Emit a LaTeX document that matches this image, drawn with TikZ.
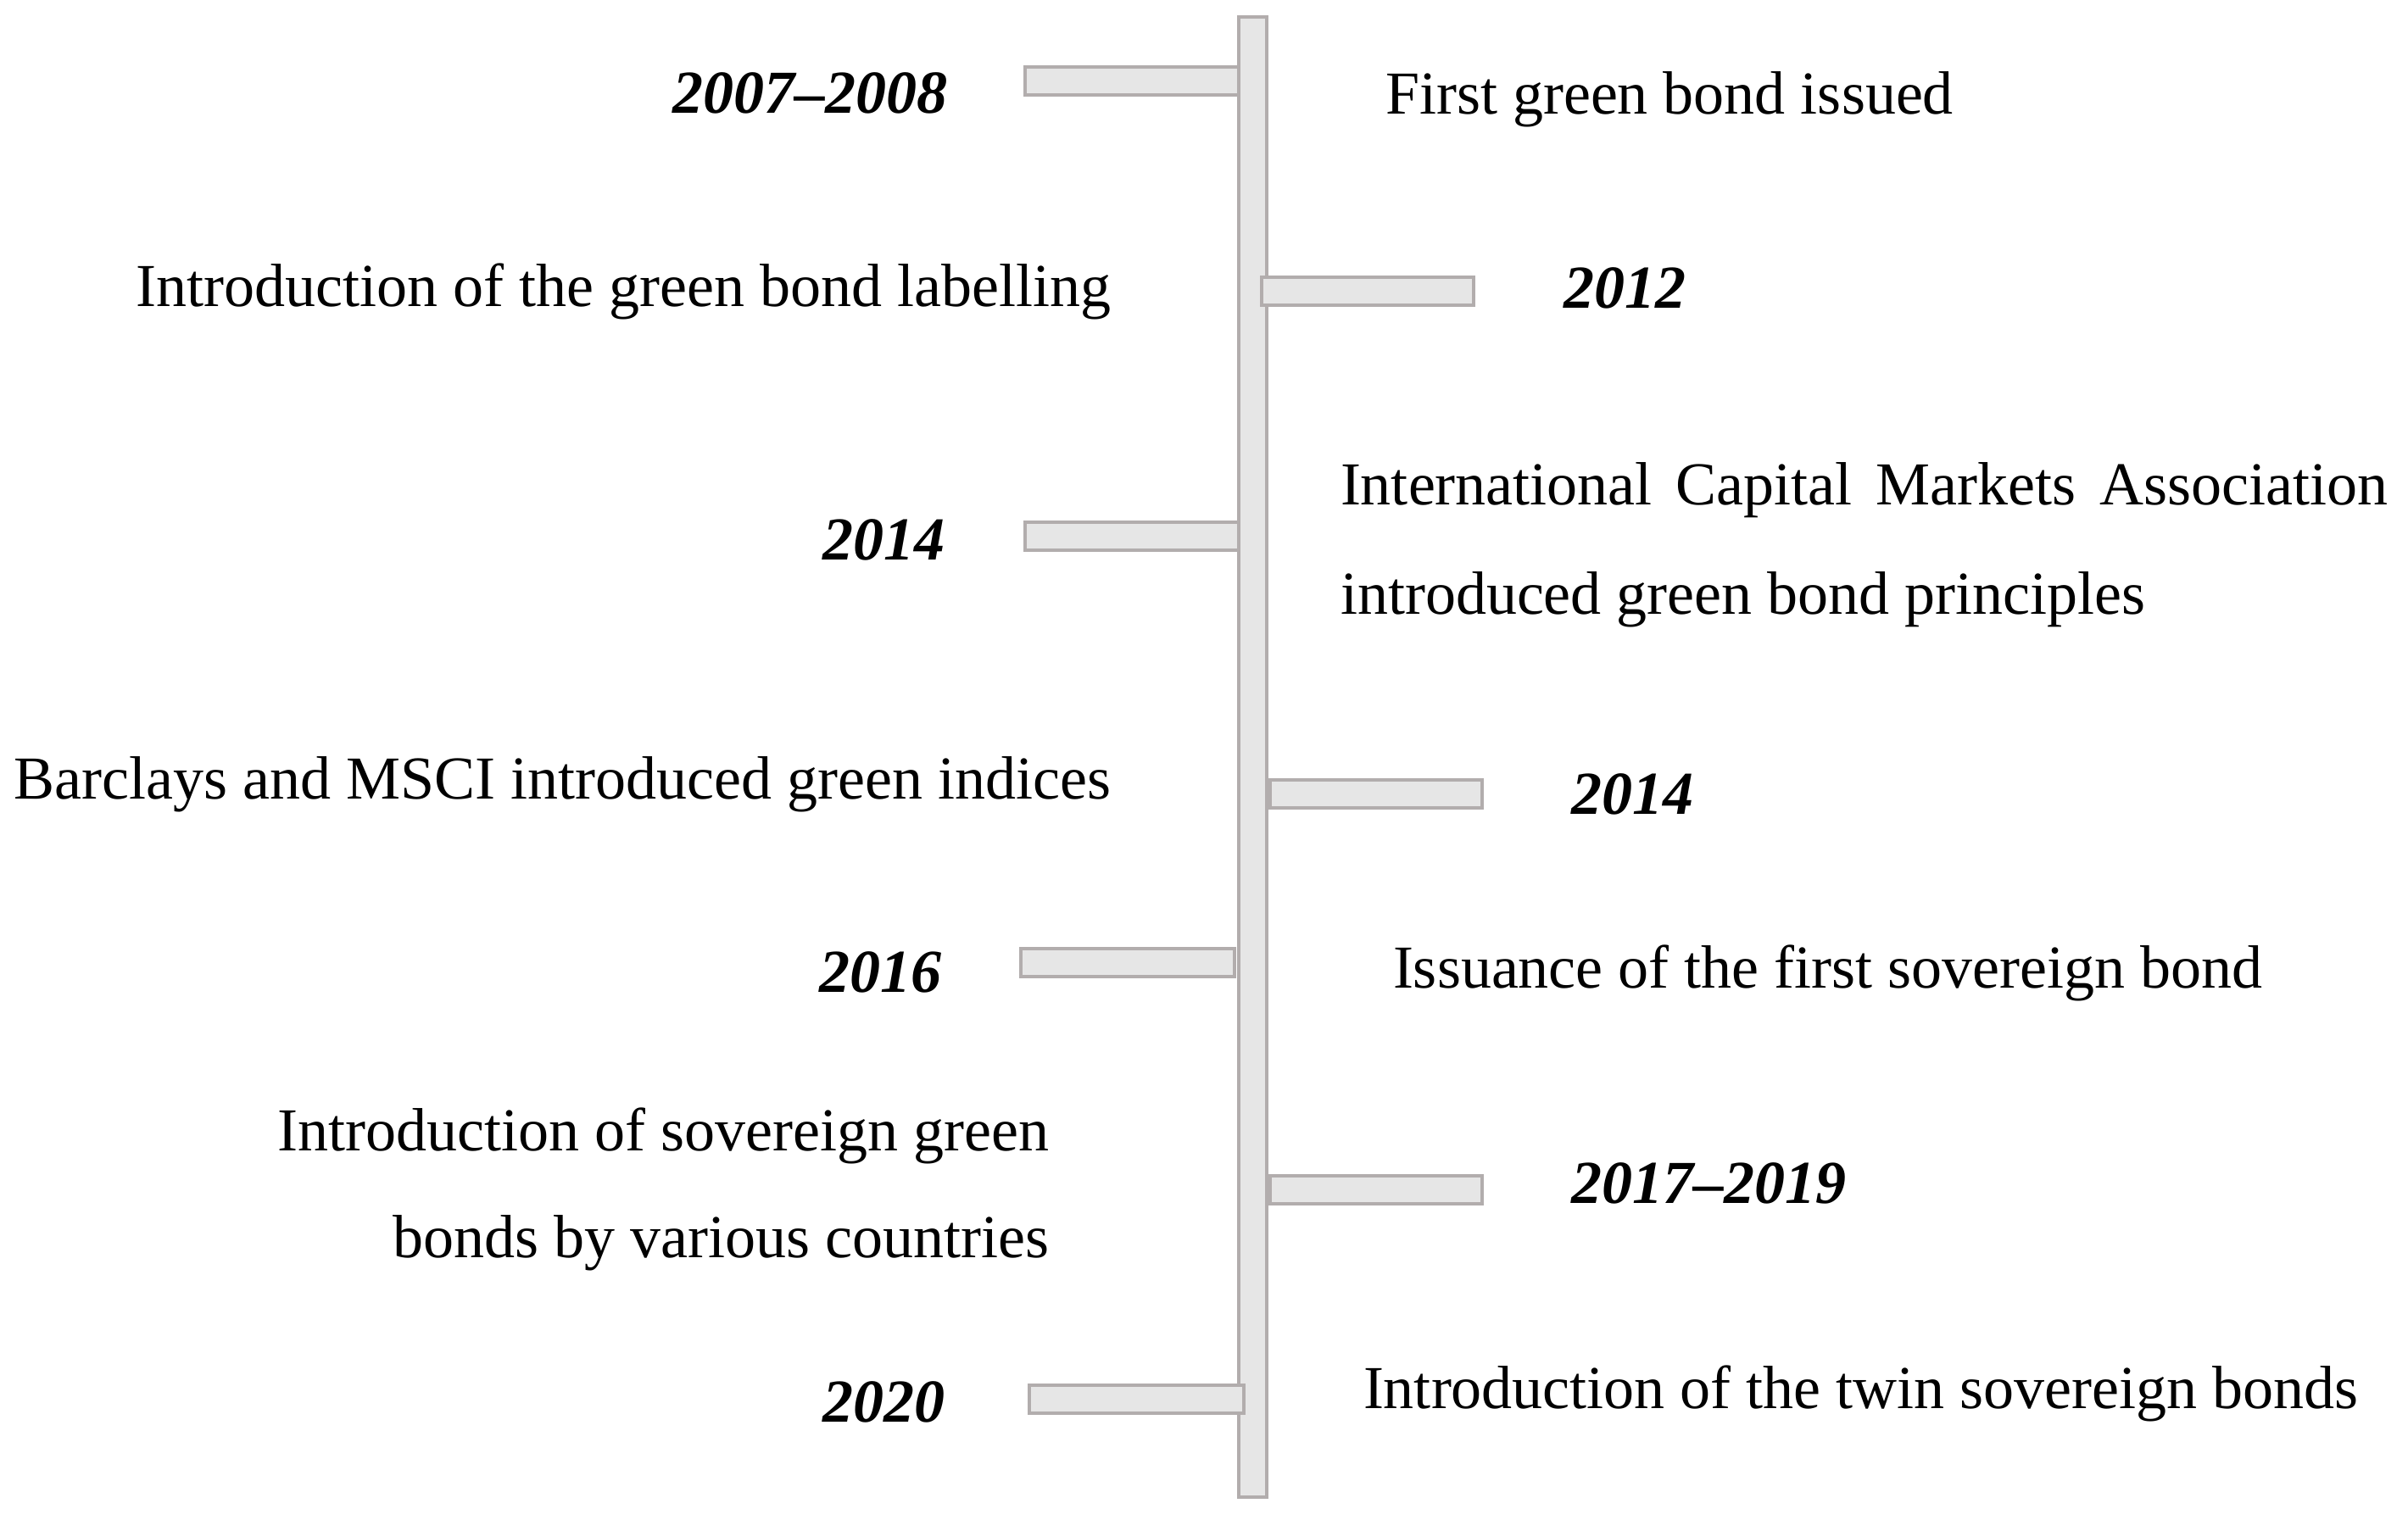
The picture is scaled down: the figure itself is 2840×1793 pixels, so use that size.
\documentclass[tikz,border=0pt]{standalone}
\usepackage{fontspec}
\setmainfont{Liberation Serif}
\definecolor{barfill}{HTML}{E6E6E6}
\definecolor{barline}{HTML}{B2ADAD}
\begin{document}
\begin{tikzpicture}[x=1pt,y=-1pt,
  bar/.style={draw=barline, fill=barfill, line width=4.5pt, inner sep=0pt, outer sep=0pt, anchor=north west},
  txt/.style={font=\fontsize{72}{86}\selectfont, inner sep=0pt, outer sep=0pt},
  yr/.style={font=\fontsize{72}{86}\selectfont\bfseries\itshape, inner sep=0pt, outer sep=0pt}]
\useasboundingbox (0,0) rectangle (2840,1793);
% vertical bar
\node[bar, minimum width=33pt, minimum height=1746pt] (axis) at (1461,20) {};
% stubs
\node[bar, minimum width=252pt, minimum height=33pt] (s1) at (1209,79) {};
\node[bar, minimum width=250pt, minimum height=33pt] (s2) at (1488,327) {};
\node[bar, minimum width=252pt, minimum height=33pt] (s3) at (1209,616) {};
\node[bar, minimum width=250pt, minimum height=33pt] (s4) at (1498,920) {};
\node[bar, minimum width=252pt, minimum height=33pt] (s5) at (1204,1119) {};
\node[bar, minimum width=250pt, minimum height=33pt] (s6) at (1498,1387) {};
\node[bar, minimum width=253pt, minimum height=33pt] (s7) at (1214,1634) {};
% years
\node[yr, anchor=base east] (y1) at (1117,133) {2007–2008};
\node[yr, anchor=base west] (y2) at (1844,363) {2012};
\node[yr, anchor=base east] (y3) at (1114,660) {2014};
\node[yr, anchor=base west] (y4) at (1853,960) {2014};
\node[yr, anchor=base east] (y5) at (1110,1170) {2016};
\node[yr, anchor=base west] (y6) at (1853,1419) {2017–2019};
\node[yr, anchor=base east] (y7) at (1114,1677) {2020};
% events
\node[txt, anchor=base west] (e1) at (1634,134) {First green bond issued};
\node[txt, anchor=base east] (e2) at (1310,361) {Introduction of the green bond labelling};
\node[txt, anchor=base west] (e3a) at (1581,595) {\makebox[1235pt][s]{International Capital Markets Association}};
\node[txt, anchor=base west] (e3b) at (1581,724) {introduced green bond principles};
\node[txt, anchor=base east] (e4) at (1310,942) {Barclays and MSCI introduced green indices};
\node[txt, anchor=base west] (e5) at (1643,1165) {Issuance of the first sovereign bond};
\node[txt, anchor=base east] (e6a) at (1237,1357) {Introduction of sovereign green};
\node[txt, anchor=base east] (e6b) at (1237,1483) {bonds by various countries};
\node[txt, anchor=base west] (e7) at (1608,1661) {Introduction of the twin sovereign bonds};
\end{tikzpicture}
\end{document}
